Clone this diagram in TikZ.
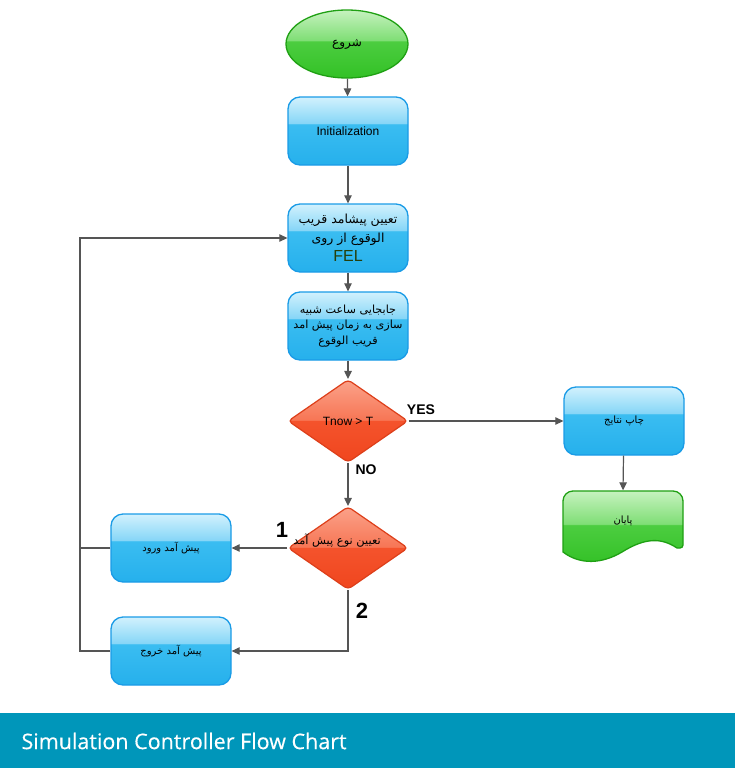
\documentclass[tikz,border=0pt]{standalone}
\usepackage{fontspec}
\setmainfont{Liberation Sans}
\newfontfamily\fa[Script=Arabic]{DejaVu Sans}
\newfontfamily\footfont[FakeBold=0.35]{Open Sans}
\TeXXeTstate=1
\usetikzlibrary{shapes.geometric,arrows.meta}

% glossy fills: 25bp = bottom edge, 75bp = top edge
\definecolor{bT}{HTML}{D2F1FD}\definecolor{bL}{HTML}{86D6F7}
\definecolor{bM}{HTML}{3ABDF1}\definecolor{bB}{HTML}{26B0EC}
\definecolor{bO}{HTML}{1A9BE6}
\definecolor{rT}{HTML}{FBA28A}\definecolor{rL}{HTML}{F77655}
\definecolor{rM}{HTML}{F4532C}\definecolor{rB}{HTML}{F0461E}
\definecolor{rO}{HTML}{DD3F1A}
\definecolor{gT}{HTML}{C6F2BF}\definecolor{gL}{HTML}{7FDE75}
\definecolor{gM}{HTML}{4CCD40}\definecolor{gB}{HTML}{33C126}
\definecolor{gO}{HTML}{1FA013}
\definecolor{wire}{HTML}{555555}
\definecolor{footer}{HTML}{0096BA}
\definecolor{felgreen}{HTML}{253F0A}

\pgfdeclareverticalshading{glossblue}{100bp}{color(0bp)=(bB); color(25bp)=(bB); color(55bp)=(bM); color(55.6bp)=(bL); color(75bp)=(bT); color(100bp)=(bT)}
\pgfdeclareverticalshading{glossred}{100bp}{color(0bp)=(rB); color(25bp)=(rB); color(50bp)=(rM); color(50.6bp)=(rL); color(75bp)=(rT); color(100bp)=(rT)}
\pgfdeclareverticalshading{glossgreen}{100bp}{color(0bp)=(gB); color(25bp)=(gB); color(52bp)=(gM); color(52.6bp)=(gL); color(75bp)=(gT); color(100bp)=(gT)}

\tikzset{
  procbox/.style={rectangle, rounded corners=12pt, minimum width=120pt,
    minimum height=68pt, shading=glossblue, draw=bO, line width=1.3pt,
    align=center, text=black, inner sep=2pt},
  decide/.style={diamond, aspect=1.46, minimum width=120pt, minimum height=83pt,
    rounded corners=4pt, shading=glossred, draw=rO, line width=1.2pt,
    inner sep=0pt, align=center},
  startnode/.style={ellipse, minimum width=122pt, minimum height=68pt,
    shading=glossgreen, draw=gO, line width=1.3pt},
  farsi/.style={font=\fa\fontsize{10}{16}\selectfont},
  latin/.style={font=\fontsize{12}{15}\selectfont},
  flow/.style={draw=wire, line width=1.2pt, -{Triangle[length=8pt,width=7.5pt]}},
  plainwire/.style={draw=wire, line width=1.2pt},
  branch/.style={font=\bfseries\fontsize{14}{16}\selectfont, text=black},
  bignum/.style={font=\bfseries\fontsize{22}{24}\selectfont, text=black},
}

\begin{document}
\begin{tikzpicture}[x=1pt, y=-1pt]
\useasboundingbox (0,0) rectangle (735,768);

% main column
\node[startnode, font=\fa\fontsize{12}{16}\selectfont] (start) at (347,44) {\beginR شروع\endR};
\node[procbox, latin] (init) at (348,131) {Initialization};
\node[procbox, font=\fa\fontsize{12.5}{19}\selectfont] (fel) at (348,238)
  {\beginR تعیین پیشامد قریب\endR\\ \beginR الوقوع از روی\endR\\[0pt]
   {\rmfamily\fontsize{16}{16}\selectfont\color{felgreen}FEL}};
\node[procbox, font=\fa\fontsize{11.2}{15.5}\selectfont] (clock) at (348,326)
  {\beginR جابجایی ساعت شبیه\endR\\ \beginR سازی به زمان پیش امد\endR\\ \beginR قریب الوقوع\endR};
\node[decide, latin] (test) at (348,421) {Tnow > T};
\node[decide] (kind) at (348,548) {};
\node[font=\fa\fontsize{11.4}{16}\selectfont] (kindtext) at (337,541) {\beginR تعیین نوع پیش آمد\endR};

% event handlers
\node[procbox, farsi] (arr) at (171,548) {\beginR پیش آمد ورود\endR};
\node[procbox, farsi] (dep) at (171,651) {\beginR پیش آمد خروج\endR};

% results and end
\node[procbox, farsi] (prnt) at (624,421) {\beginR چاپ نتایج\endR};
\shade[shading=glossgreen, draw=gO, line width=1.3pt]
  (563,552) -- (563,501) arc(180:270:10) -- (673,491) arc(270:360:10)
  -- (683,545) arc(0:90:3) -- (677,548)
  .. controls (662,538) and (646,537) .. (622,552)
  .. controls (602,564) and (580,565) .. (563,552) -- cycle;
\node[minimum width=120pt, minimum height=61pt, farsi] (stop) at (623,521) {\beginR پایان\endR};

% connectors
\draw[flow] (start) -- (init);
\draw[flow] (init) -- (fel);
\draw[flow] (fel) -- (clock);
\draw[flow] (clock) -- (test);
\draw[flow] (test) -- (kind);
\draw[flow] (test) -- (prnt);
\draw[flow] (prnt) -- (stop.north);
\draw[flow] (kind) -- (arr);
\draw[flow] (kind.south) |- (dep.east);

% loop back to the event list
\coordinate (back) at (80,238);
\draw[flow] (dep.west) -| (back) -- (fel.west);
\draw[plainwire] (arr.west) -- (arr.west -| back);

% branch labels
\node[branch] (yes) at (421,410) {YES};
\node[branch] (no) at (366,470) {NO};
\node[bignum] (one) at (282,530) {1};
\node[bignum] (two) at (362,611) {2};

% caption band
\fill[footer] (0,713) rectangle (735,768);
\node[anchor=west, text=white, font=\footfont\fontsize{21.5}{24}\selectfont] (cap) at (18,741)
  {Simulation Controller Flow Chart};
\end{tikzpicture}
\end{document}
